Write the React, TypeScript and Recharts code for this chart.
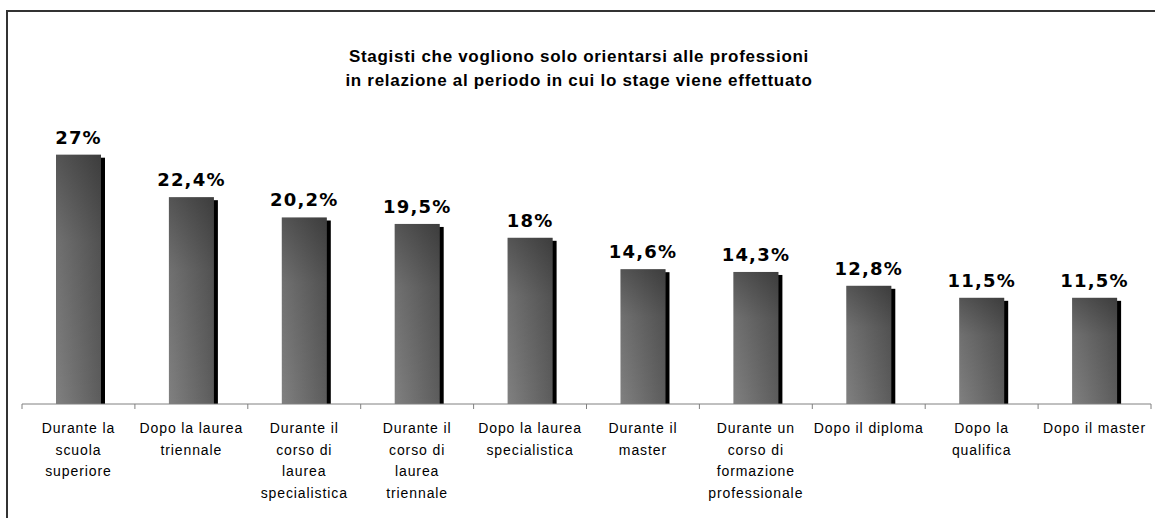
import { BarChart, Bar, XAxis, YAxis, LabelList } from "recharts"

const categories = [
  "Durante la\nscuola\nsuperiore",
  "Dopo la laurea\ntriennale",
  "Durante il\ncorso di\nlaurea\nspecialistica",
  "Durante il\ncorso di\nlaurea\ntriennale",
  "Dopo la laurea\nspecialistica",
  "Durante il\nmaster",
  "Durante un\ncorso di\nformazione\nprofessionale",
  "Dopo il diploma",
  "Dopo la\nqualifica",
  "Dopo il master",
]
const values = [27, 22.4, 20.2, 19.5, 18, 14.6, 14.3, 12.8, 11.5, 11.5]
const titleLines = [
  "Stagisti che vogliono solo orientarsi alle professioni",
  "in relazione al periodo in cui lo stage viene effettuato",
]

const data = categories.map((c, i) => ({ name: c, value: values[i] }))

const W = 1155
const H = 518
const AXIS_H = 30
const M = { top: 127, right: 4, left: 22, bottom: 114 - AXIS_H }
const halfBand = (W - M.left - M.right) / categories.length / 2

function BarShape(props: any) {
  const { x, y, width, height } = props
  if (!height) return null
  return (
    <g>
      <rect x={x + 4} y={y + 3} width={width} height={height - 3} fill="#000" />
      <rect x={x} y={y} width={width} height={height} fill="url(#barH)" />
      <rect x={x} y={y} width={width} height={height} fill="url(#barV)" />
    </g>
  )
}

function CatTick(props: any) {
  const { x, y, payload, index } = props
  const lines = String(payload.value).split("\n")
  return (
    <g>
      <line x1={x - halfBand} y1={y} x2={x - halfBand} y2={y + 5} stroke="#808080" />
      {index === categories.length - 1 && (
        <line x1={x + halfBand} y1={y} x2={x + halfBand} y2={y + 5} stroke="#808080" />
      )}
      <text
        x={x}
        y={y + 29}
        textAnchor="middle"
        fontFamily="'Liberation Sans', Arial, sans-serif"
        fontSize={14}
        letterSpacing={0.9}
        fill="#000"
      >
        {lines.map((l, i) => (
          <tspan key={i} x={x} dy={i === 0 ? 0 : 21.7}>
            {l}
          </tspan>
        ))}
      </text>
    </g>
  )
}

export default function App() {
  return (
    <div
      style={{
        position: "absolute",
        left: 0,
        top: 0,
        width: W,
        height: H,
        overflow: "hidden",
        background: "#fff",
      }}
    >
      <div
        style={{
          position: "absolute",
          left: 6,
          top: 10,
          width: 1300,
          height: 700,
          borderTop: "2px solid #333",
          borderLeft: "2px solid #333",
        }}
      />
      <div
        style={{
          position: "absolute",
          left: 0,
          top: 45,
          width: 1158,
          textAlign: "center",
          fontFamily: "'Liberation Sans', Arial, sans-serif",
          fontWeight: "bold",
          fontSize: 17,
          lineHeight: "24px",
          letterSpacing: 0.7,
          color: "#000",
        }}
      >
        {titleLines.map((t) => (
          <div key={t}>{t}</div>
        ))}
      </div>
      <div style={{ position: "absolute", left: 0, top: 0 }}>
        <BarChart width={W} height={H} data={data} margin={M}>
          <defs>
            <linearGradient id="barH" x1="0" y1="0" x2="1" y2="0">
              <stop offset="0%" stopColor="#808080" />
              <stop offset="100%" stopColor="#5c5c5c" />
            </linearGradient>
            <linearGradient id="barV" x1="0" y1="0" x2="0" y2="1">
              <stop offset="0%" stopColor="#000" stopOpacity={0.34} />
              <stop offset="35%" stopColor="#000" stopOpacity={0.12} />
              <stop offset="100%" stopColor="#000" stopOpacity={0} />
            </linearGradient>
          </defs>
          <XAxis
            dataKey="name"
            interval={0}
            height={AXIS_H}
            tickLine={false}
            tickSize={0}
            tickMargin={0}
            axisLine={{ stroke: "#808080" }}
            tick={<CatTick />}
          />
          <YAxis hide domain={[0, 30]} />
          <Bar dataKey="value" barSize={45} shape={<BarShape />} isAnimationActive={false}>
            <LabelList
              dataKey="value"
              position="top"
              offset={11}
              formatter={(v: any) => String(v).replace(".", ",") + "%"}
              style={{
                fontFamily: "'DejaVu Sans', Verdana, sans-serif",
                fontWeight: "bold",
                fontSize: 18,
                letterSpacing: 1.2,
                fill: "#000",
              }}
            />
          </Bar>
        </BarChart>
      </div>
    </div>
  )
}
